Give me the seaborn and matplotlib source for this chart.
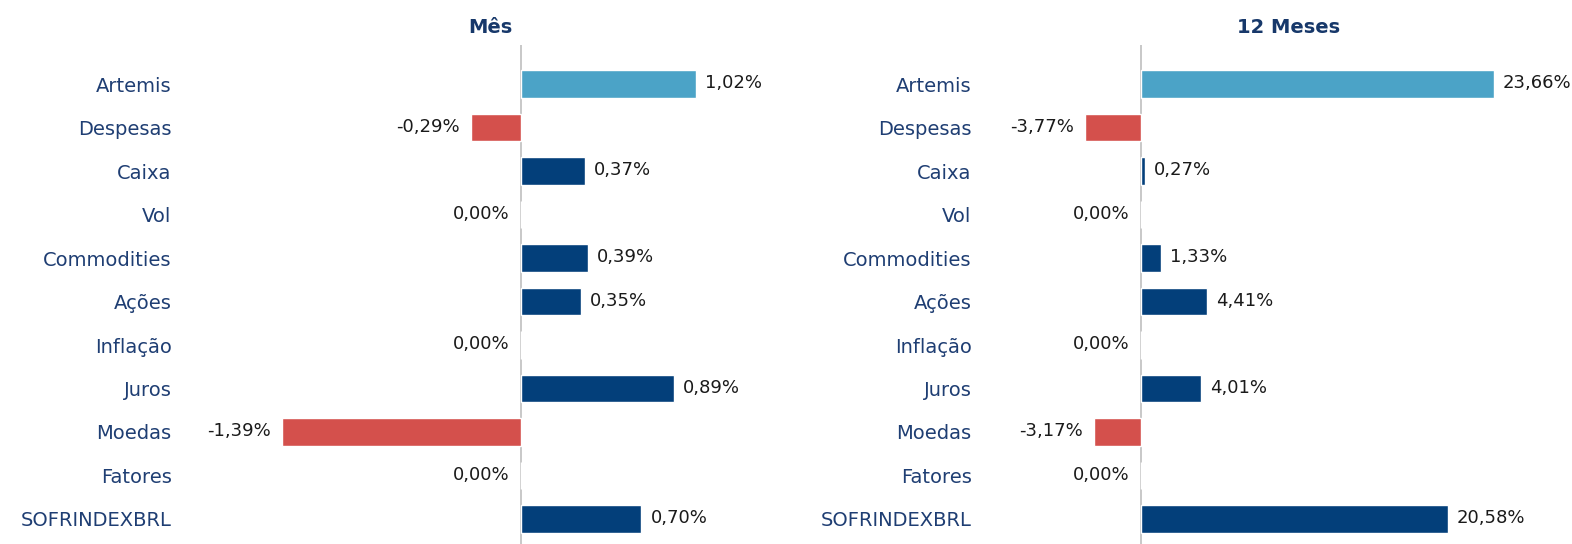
import matplotlib
matplotlib.use("Agg")
import matplotlib.pyplot as plt
import seaborn as sns

# Data
categorias = ['Artemis', 'Despesas', 'Caixa', 'Vol', 'Commodities', 'Ações',
              'Inflação', 'Juros', 'Moedas', 'Fatores', 'SOFRINDEXBRL']
mes = [1.02, -0.29, 0.37, 0.00, 0.39, 0.35, 0.00, 0.89, -1.39, 0.00, 0.70]
doze_meses = [23.66, -3.77, 0.27, 0.00, 1.33, 4.41, 0.00, 4.01, -3.17, 0.00, 20.58]
titulos = ['Mês', '12 Meses']

AZUL_CLARO = '#4BA3C7'
AZUL = '#033F7A'
VERMELHO = '#D4504C'
TEXTO = '#1F3E73'

sns.set_style('white')
plt.rcParams['font.family'] = ['DejaVu Sans']

W, H = 1572, 544
fig = plt.figure(figsize=(W / 100, H / 100), dpi=100)


def cores(valores):
    out = []
    for i, v in enumerate(valores):
        if i == 0:
            out.append(AZUL_CLARO)
        elif v < 0:
            out.append(VERMELHO)
        else:
            out.append(AZUL)
    return out


def painel(rect, valores, titulo, xlim, titulo_x):
    ax = fig.add_axes(rect)
    sns.barplot(x=valores, y=categorias, hue=categorias, palette=cores(valores),
                legend=False, orient='h', width=0.64, ax=ax, saturation=1)
    ax.set_xlim(*xlim)
    ax.set_ylim(10.575, -0.897)
    ax.axvline(0, color='#C4C4C4', lw=1.3, zorder=0)
    sns.despine(ax=ax, left=True, bottom=True)
    ax.set_xticks([])
    ax.set_xlabel('')
    ax.set_ylabel('')
    ax.tick_params(axis='y', length=0, pad=6, labelsize=14, labelcolor=TEXTO)
    for i, v in enumerate(valores):
        txt = f'{v:.2f}%'.replace('.', ',')
        if v > 0:
            ax.annotate(txt, (v, i), xytext=(6.5, 0.5), textcoords='offset points',
                        ha='left', va='center', fontsize=13, color='#1a1a1a')
        else:
            ax.annotate(txt, (v, i), xytext=(-8, 0.5), textcoords='offset points',
                        ha='right', va='center', fontsize=13, color='#1a1a1a')
    ax.text(titulo_x, 1.036, titulo, transform=ax.transAxes, ha='center', va='center',
            fontsize=14, fontweight='bold', color='#17386A')
    return ax


top = 45
altura = (H - top) / H
# Left panel: zero at x=521, 172 px per 1%
painel([180 / W, 0, 680 / W, altura], mes, titulos[0],
       ((180 - 521) / 172, (860 - 521) / 172), (490 - 180) / 680)
# Right panel: zero at x=1141, 14.92 px per 1%
painel([980 / W, 0, 592 / W, altura], doze_meses, titulos[1],
       ((980 - 1141) / 14.92, (1572 - 1141) / 14.92), (1289 - 980) / 592)

plt.savefig('out.png', dpi=100)
